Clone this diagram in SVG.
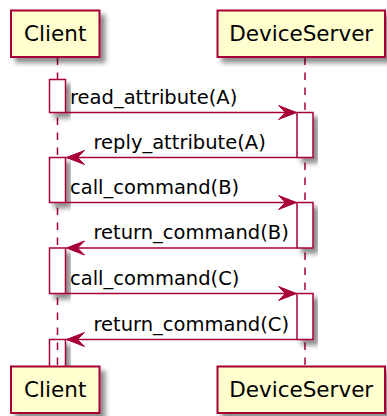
<svg xmlns="http://www.w3.org/2000/svg" width="387" height="416" viewBox="0 0 387 416">
  <style>
    .participant { fill: #FEFECE; stroke: #A80036; stroke-width: 2; }
    .participant-label { font-family: "DejaVu Sans", "Liberation Sans", sans-serif; font-size: 21.5px; fill: #000000; text-anchor: middle; }
    .lifeline { stroke: #A80036; stroke-width: 1.5; stroke-dasharray: 7.5 7.5; fill: none; }
    .activation { fill: #FFFFFF; stroke: #A80036; stroke-width: 1.5; }
    .message { stroke: #A80036; stroke-width: 1.5; fill: none; marker-end: url(#arrow); }
    .message-label { font-family: "DejaVu Sans", "Liberation Sans", sans-serif; font-size: 19.5px; fill: #000000; }
  </style>
  <defs>
    <filter id="shadow" x="-20%" y="-20%" width="150%" height="150%">
      <feGaussianBlur in="SourceAlpha" stdDeviation="2.5" result="blur"/>
      <feOffset in="blur" dx="4.5" dy="4.5" result="off"/>
      <feComponentTransfer in="off" result="soft">
        <feFuncA type="linear" slope="0.45"/>
      </feComponentTransfer>
      <feMerge>
        <feMergeNode in="soft"/>
        <feMergeNode in="SourceGraphic"/>
      </feMerge>
    </filter>
    <marker id="arrow" viewBox="-20 -10 22 20" refX="0" refY="0" markerWidth="22" markerHeight="20" markerUnits="userSpaceOnUse" orient="auto" overflow="visible">
      <path d="M0,0 L-18,-7 L-11,0 L-18,7 Z" fill="#A80036" stroke="#A80036" stroke-width="1" stroke-linejoin="miter"/>
    </marker>
  </defs>

  <!-- lifelines -->
  <g id="lifelines">
    <line class="lifeline" x1="57.5" y1="57.5" x2="57.5" y2="366.5"/>
    <line class="lifeline" x1="305" y1="57.5" x2="305" y2="366.5"/>
  </g>

  <!-- activation bars -->
  <g id="client-activations" filter="url(#shadow)">
    <rect class="activation" x="49.5" y="79.5" width="16" height="33"/>
    <rect class="activation" x="49.5" y="157.5" width="16" height="45"/>
    <rect class="activation" x="49.5" y="248" width="16" height="45.5"/>
    <!-- still open when the diagram ends: white body, no bottom edge -->
    <rect x="49.5" y="339.5" width="16" height="27" fill="#FFFFFF"/>
  </g>
  <g id="client-open-activation">
    <path d="M49.5,366 L49.5,339.5 L65.5,339.5 L65.5,366" fill="none" stroke="#A80036" stroke-width="1.5"/>
    <line class="lifeline" x1="57.5" y1="339.5" x2="57.5" y2="366.5" stroke-dashoffset="12"/>
  </g>
  <g id="deviceserver-activations" filter="url(#shadow)">
    <rect class="activation" x="297" y="112.5" width="16" height="45"/>
    <rect class="activation" x="297" y="202.5" width="16" height="45.5"/>
    <rect class="activation" x="297" y="293.5" width="16" height="46"/>
  </g>

  <!-- participants -->
  <g id="client-head">
    <rect class="participant" x="11" y="10.5" width="88.5" height="46.5" filter="url(#shadow)"/>
    <text class="participant-label" x="55.2" y="41">Client</text>
  </g>
  <g id="deviceserver-head">
    <rect class="participant" x="217.5" y="10.5" width="167.5" height="46.5" filter="url(#shadow)"/>
    <text class="participant-label" x="301.2" y="41">DeviceServer</text>
  </g>
  <g id="client-tail">
    <rect class="participant" x="11" y="366.5" width="88.5" height="46.5" filter="url(#shadow)"/>
    <text class="participant-label" x="55.2" y="397">Client</text>
  </g>
  <g id="deviceserver-tail">
    <rect class="participant" x="217.5" y="366.5" width="167.5" height="46.5" filter="url(#shadow)"/>
    <text class="participant-label" x="301.2" y="397">DeviceServer</text>
  </g>

  <!-- messages -->
  <g id="connectors">
    <line class="message" x1="65.5" y1="112.5" x2="296.5" y2="112.5"/>
    <text class="message-label" x="70" y="103.5">read_attribute(A)</text>

    <line class="message" x1="297" y1="157.5" x2="66.5" y2="157.5"/>
    <text class="message-label" x="93.5" y="148.5">reply_attribute(A)</text>

    <line class="message" x1="65.5" y1="202.5" x2="296.5" y2="202.5"/>
    <text class="message-label" x="70" y="193.5">call_command(B)</text>

    <line class="message" x1="297" y1="248" x2="66.5" y2="248"/>
    <text class="message-label" x="93.5" y="239">return_command(B)</text>

    <line class="message" x1="65.5" y1="293.5" x2="296.5" y2="293.5"/>
    <text class="message-label" x="70" y="284.5">call_command(C)</text>

    <line class="message" x1="297" y1="339.5" x2="66.5" y2="339.5"/>
    <text class="message-label" x="93.5" y="330.5">return_command(C)</text>
  </g>
</svg>
